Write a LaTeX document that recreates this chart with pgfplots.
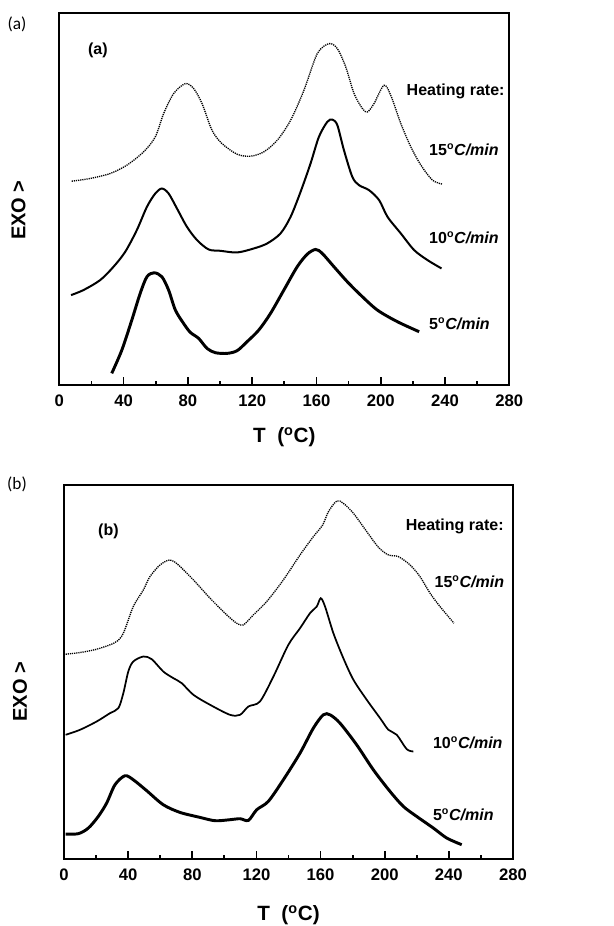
\documentclass[border=0pt]{standalone}
\usepackage{fontspec}
\setmainfont{Liberation Sans}
\newfontfamily\calib{Carlito}
\usepackage{pgfplots}
\pgfplotsset{compat=1.18}

\pgfplotsset{
  dsc/.style={
    scale only axis,
    xmin=0, xmax=280, xtick={0,40,...,280}, minor x tick num=1,
    ytick=\empty, xtick pos=left, tick align=inside,
    major tick length=6pt, minor tick length=3pt,
    axis line style={line width=1.5pt},
    tick style={line width=1.3pt, black},
    /pgf/number format/assume math mode=true,
    xticklabel style={font=\fontsize{12.5}{13}\selectfont\bfseries, yshift=-4pt},
    xlabel={T\ \ (\textsuperscript{o}C)},
    xlabel style={font=\fontsize{15.5}{16}\selectfont\bfseries, anchor=center},
    ylabel={EXO >},
    ylabel style={font=\fontsize{15}{16}\selectfont\bfseries, anchor=center},
  },
  r15/.style={black, line width=1pt, dash pattern=on 0.9pt off 0.7pt, smooth},
  r10/.style={black, line width=1.5pt, smooth},
  r5/.style={black, line width=2.2pt, smooth},
}
\tikzset{lbl/.style={font=\fontsize{12}{13}\selectfont\bfseries, anchor=west, inner sep=0pt}}
\newcommand{\rate}[1]{#1\textsuperscript{o}\textit{C/min}}

\begin{document}
\begin{tikzpicture}
\path[use as bounding box] (0,0) rectangle (460.5pt,-694.5pt);

\node[font=\calib\fontsize{13}{14}\selectfont] at (12.75pt,-18pt) {(a)};
\node[font=\calib\fontsize{13}{14}\selectfont] at (12.75pt,-363pt) {(b)};

% panel (a)
\begin{axis}[dsc, at={(44.5pt,-288.75pt)}, anchor=south west,
  width=337.5pt, height=279pt, ymin=0, ymax=1117,
  xlabel style={at={(rel axis cs:0.5,0)}, yshift=-39pt},
  ylabel style={at={(rel axis cs:-0.091,0.47)}},
]
\addplot[r15] coordinates {
 (7.7,612) (19,620) (31.6,635) (42,660) (52.4,700) (59.7,745) (64.9,815)
 (71.1,875) (78.4,905) (83.6,890) (88.8,845) (95,765) (101.2,725)
 (110.6,693) (118.9,687) (127.2,700) (135.6,735) (143.9,795) (152.2,885)
 (160.5,995) (167.8,1025) (173,1010) (178.2,955) (183.4,875) (188.6,830)
 (191.7,820) (195.8,845) (202,900) (206.2,870) (212.5,785) (218.7,715)
 (225,660) (232.2,615) (238.5,603)
};
\addplot[r10] coordinates {
 (7.3,270) (15,285) (25.4,315) (33.7,355) (41,400) (48.2,465) (54.5,535)
 (59.7,575) (63.8,590) (68,575) (73.2,530) (79.4,475) (85.7,435)
 (92.9,407) (100.2,403) (110.6,398) (121,410) (129.3,425) (137.6,455)
 (143.9,505) (150.1,580) (156.3,665) (161.5,745) (166.7,790) (169.9,797)
 (173,780) (177.1,705) (182.3,625) (186.5,600) (192.7,585) (199,555)
 (204.2,505) (212.5,455) (220.8,405) (229.1,375) (237.8,350)
};
\addplot[r5] coordinates {
 (32.6,35) (38.9,105) (45.1,195) (50.3,275) (54.5,325) (59,337) (63.8,325)
 (68,285) (72.2,225) (77.3,185) (81.5,158) (86.7,140) (91.9,110)
 (97.1,97) (104.4,95) (110.6,103) (116.8,130) (124.1,165) (131.4,215)
 (139.7,285) (148,355) (154.3,393) (159.5,407) (163.6,395) (170.9,355)
 (179.2,310) (187.5,270) (197.9,225) (210.4,190) (223.9,160)
};
\node[lbl, anchor=center] at (axis cs:24,1005) {(a)};
\node[lbl] at (axis cs:216,883) {Heating rate:};
\node[lbl] at (axis cs:230,707) {\rate{15}};
\node[lbl] at (axis cs:230,442) {\rate{10}};
\node[lbl] at (axis cs:230,185) {\rate{5}};
\end{axis}

% panel (b)
\begin{axis}[dsc, at={(48pt,-644.25pt)}, anchor=south west,
  width=336.75pt, height=280.5pt, ymin=0, ymax=1123,
  xlabel style={at={(rel axis cs:0.5,0)}, yshift=-42pt},
  ylabel style={at={(rel axis cs:-0.098,0.447)}},
]
\addplot[r15] coordinates {
 (1,615) (10,620) (20.4,630) (31.8,650) (37,678) (43.2,758) (49.5,808)
 (53.6,848) (59.9,883) (66.1,898) (71.3,883) (80.7,838) (91.1,783)
 (101.5,733) (107.7,708) (111.9,703) (118.1,733) (126.4,773) (136.8,838)
 (147.2,913) (155.5,968) (161.3,1003) (164.9,1043) (170.1,1075)
 (174.2,1068) (180.5,1038) (188.8,983) (196.1,936) (202.3,913)
 (208.5,908) (215.8,883) (222,848) (228.3,798) (234.5,758) (243.2,708)
};
\addplot[r10, line width=1.3pt] coordinates {
 (1,373) (10,388) (20.4,413) (28.7,438) (33.9,453) (37,498) (40.1,563)
 (43.2,593) (49.5,608) (54.7,600) (61.9,563) (68.2,543) (73.4,528)
 (80.7,493) (91.1,463) (103.5,433) (109.8,433) (115,458) (122.2,473)
 (130.6,548) (139.9,643) (147.2,693) (153.4,738) (157.6,758) (160.1,783)
 (162.8,758) (168,678) (174.2,603) (180.5,538) (188.8,478) (197.1,423)
 (202.3,388) (207.5,373) (213.7,330) (217.9,323)
};
\addplot[r5] coordinates {
 (1,75) (8.9,76) (15.2,93) (21.4,128) (26.6,168) (31.8,223) (38,250)
 (43.2,238) (51.6,205) (61.9,163) (72.3,140) (84.8,125) (94.2,115)
 (103.5,118) (109.8,121) (115,116) (120.2,148) (127.4,173) (136.8,238)
 (147.2,318) (155.5,393) (161.7,433) (165.9,433) (172.1,408) (182.5,343)
 (192.9,268) (203.3,203) (211.6,158) (219.9,128) (230.3,93) (238.7,63)
 (248,43)
};
\node[lbl, anchor=center] at (axis cs:27.7,983) {(b)};
\node[lbl] at (axis cs:213,998) {Heating rate:};
\node[lbl] at (axis cs:231,833) {\rate{15}};
\node[lbl] at (axis cs:230,348) {\rate{10}};
\node[lbl] at (axis cs:230,133) {\rate{5}};
\end{axis}
\end{tikzpicture}
\end{document}
